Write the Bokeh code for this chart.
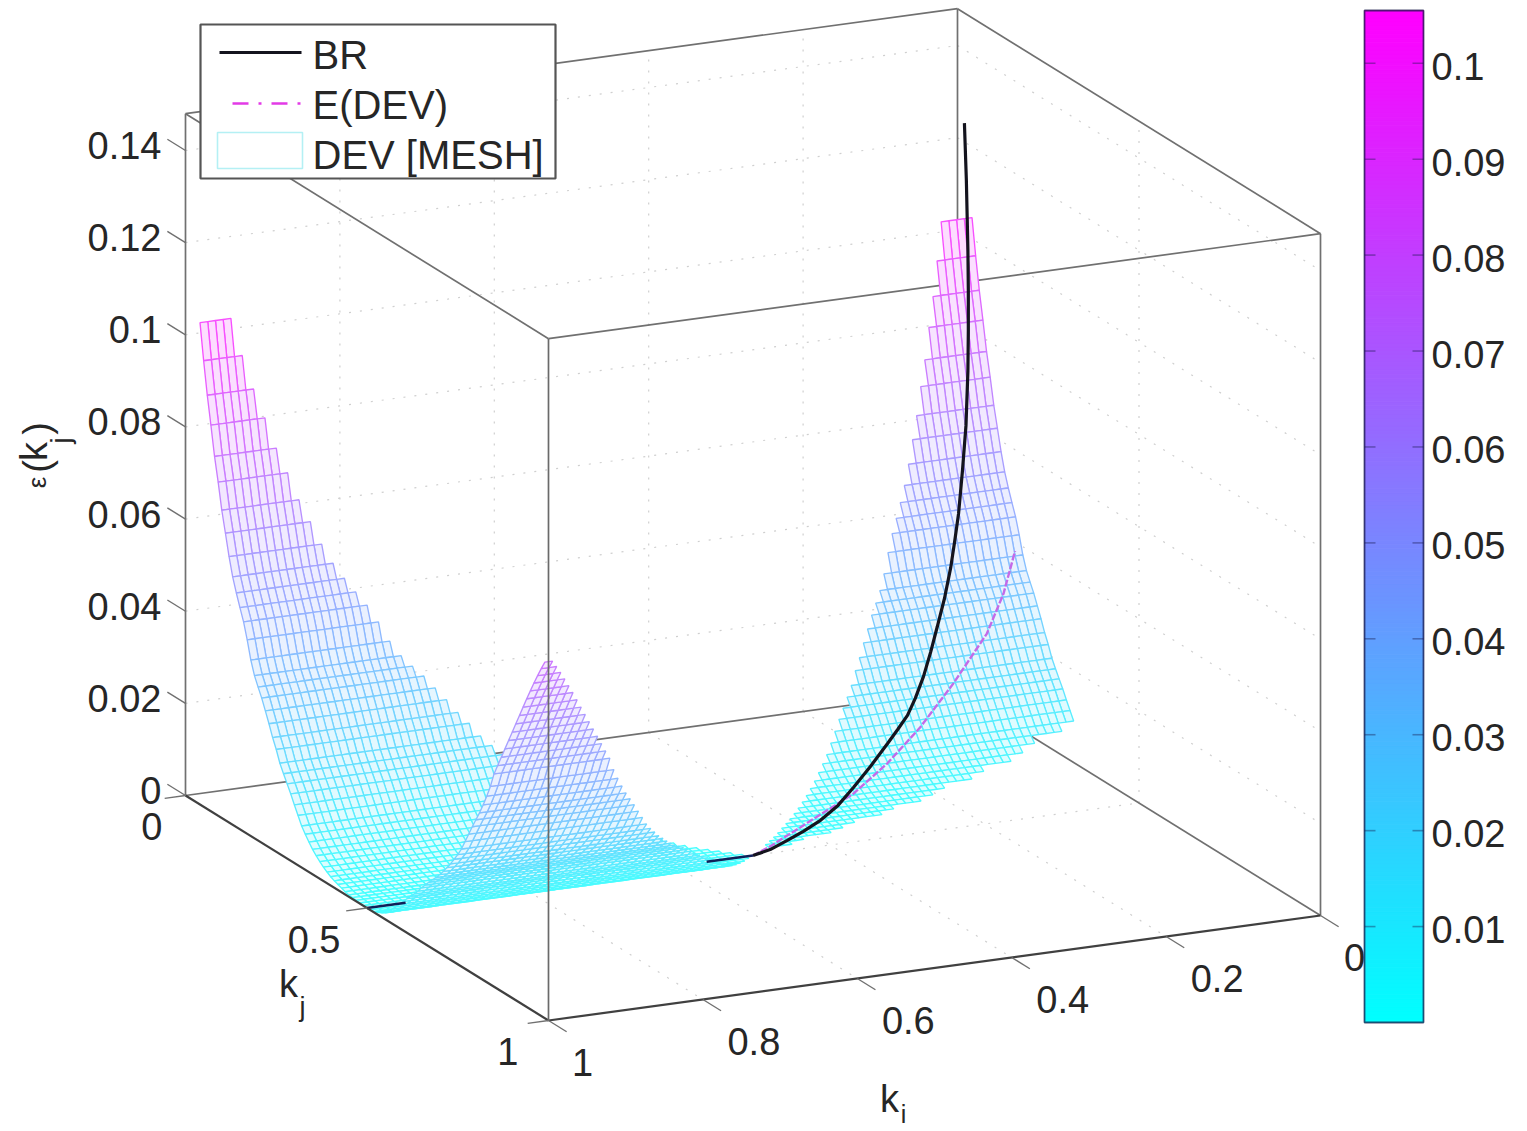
from bokeh.plotting import figure
from bokeh.embed import file_html
from bokeh.resources import INLINE
from bokeh.core.properties import value
import math

Z_TICKS = [0, 0.02, 0.04, 0.06, 0.08, 0.1, 0.12, 0.14]
Z_LABELS = ["0", "0.02", "0.04", "0.06", "0.08", "0.1", "0.12", "0.14"]
KI_TICKS = [1, 0.8, 0.6, 0.4, 0.2, 0]
KI_LABELS = ["1", "0.8", "0.6", "0.4", "0.2", "0"]
KJ_TICKS = [0, 0.5, 1]
KJ_LABELS = ["0", "0.5", "1"]
CBAR_TICKS = [0.01, 0.02, 0.03, 0.04, 0.05, 0.06, 0.07, 0.08, 0.09, 0.1]
CBAR_LABELS = ["0.01", "0.02", "0.03", "0.04", "0.05", "0.06", "0.07", "0.08", "0.09", "0.1"]
Z_TOP = 0.148
C_MAX = 0.1055

DEV_Z = [
    0.1046, 0.0968, 0.0898, 0.0838, 0.0775, 0.0724, 0.0668, 0.0623, 0.0577, 0.0538,
    0.0508, 0.0481, 0.0455, 0.0421, 0.0382, 0.0353, 0.0333, 0.0314, 0.0291, 0.0268,
    0.0243, 0.0222, 0.0197, 0.0179, 0.0162, 0.0145, 0.0126, 0.0108, 0.0090, 0.0077,
    0.0065, 0.0054, 0.0045, 0.0037, 0.0030, 0.0024, 0.0019, 0.0015, 0.0012, 0.0009,
    0.0006, 0.0004, 0.0003, 0.0002, 0.0001, 0.0000, 0.0000,
    0.0001, 0.0002, 0.0005, 0.0009, 0.0014, 0.0022, 0.0032, 0.0042, 0.0052, 0.0063,
    0.0074, 0.0084, 0.0094, 0.0105, 0.0117, 0.0128, 0.0139, 0.0149, 0.0159, 0.0170,
    0.0182, 0.0195, 0.0208, 0.0223, 0.0238, 0.0255, 0.0276, 0.0297, 0.0318, 0.0338,
    0.0358, 0.0380, 0.0404, 0.0430, 0.0462, 0.0485, 0.0508, 0.0531, 0.0554, 0.0577,
    0.0600, 0.0623, 0.0646, 0.0669, 0.0691, 0.0713, 0.0734, 0.0754, 0.0773, 0.0792,
]
# outer k_j limit of the right lobe, for k_i = 0, 0.02, ... 0.50
RIGHT_KJ_MAX = [0.32, 0.33, 0.33, 0.34, 0.35, 0.36, 0.36, 0.37, 0.38, 0.38, 0.39, 0.40, 0.41,
                0.41, 0.42, 0.43, 0.43, 0.44, 0.45, 0.46, 0.46, 0.47, 0.48, 0.48, 0.49, 0.50]

BR_KI = [0.5, 0.474, 0.448, 0.424, 0.398, 0.372, 0.348, 0.323, 0.297, 0.282, 0.267, 0.255, 0.243, 0.232,
         0.222, 0.211, 0.202, 0.196, 0.190, 0.184, 0.179, 0.176, 0.175, 0.175, 0.176, 0.178, 0.181]
BR_KJ = [0.5, 0.492, 0.484, 0.477, 0.469, 0.462, 0.454, 0.447, 0.439, 0.435, 0.430, 0.426, 0.423, 0.420,
         0.416, 0.413, 0.411, 0.409, 0.407, 0.405, 0.404, 0.403, 0.402, 0.402, 0.403, 0.403, 0.404]
BR_Z = [0.0, 0.0003, 0.0013, 0.0024, 0.0038, 0.0061, 0.0091, 0.0127, 0.0167, 0.0192, 0.0217, 0.0249, 0.0292, 0.0343,
        0.0391, 0.0450, 0.0514, 0.0568, 0.0626, 0.0717, 0.0813, 0.0931, 0.1017, 0.1104, 0.1191, 0.1344, 0.1470]
BR_STUB_KI = [1.0, 0.95]
BR_FLAT_KI = [0.56, 0.5]
E_KI = [0.5, 0.467, 0.310, 0.245, 0.183, 0.120, 0.056, 0.025, 0.003]
E_KJ = [0.5, 0.478, 0.372, 0.328, 0.286, 0.244, 0.200, 0.180, 0.165]
E_Z = [0.0, 0.0002, 0.0028, 0.0058, 0.0101, 0.0162, 0.0234, 0.0304, 0.0384]

X0, XI, XJ = 957.0, -772.0, 363.0
Y0, YI, YJ, ZS = 690.0, 105.0, 225.0, 4607.0
FONT = value("Liberation Sans")
INK = "#262626"


def px(ki, kj):
    return X0 + XI * ki + XJ * kj


def py(ki, kj, z=0.0):
    return Y0 + YI * ki + YJ * kj - ZS * z


def cool(z, white=0.0):
    c = max(0.0, min(1.0, z / C_MAX))
    r, g, b = 255 * c, 255 * (1 - c), 255.0
    return "#%02x%02x%02x" % tuple(round(v + (255 - v) * white) for v in (r, g, b))


p = figure(width=1527, height=1131, x_range=(0, 1527), y_range=(1131, 0),
           output_backend="svg", toolbar_location=None, min_border=0)
p.axis.visible = False
p.grid.visible = False
p.outline_line_color = None


def seg(items, a, b):
    items[0].append([px(a[0], a[1]), px(b[0], b[1])])
    items[1].append([py(*a), py(*b)])


# back grid, dotted
grid = ([], [])
for z in Z_TICKS[1:]:
    seg(grid, (1, 0, z), (0, 0, z))
    seg(grid, (0, 0, z), (0, 1, z))
for k in KI_TICKS[1:-1]:
    seg(grid, (k, 0, 0), (k, 1, 0))
    seg(grid, (k, 0, 0), (k, 0, Z_TOP))
for k in KJ_TICKS[1:-1]:
    seg(grid, (1, k, 0), (0, k, 0))
    seg(grid, (0, k, 0), (0, k, Z_TOP))
p.multi_line(grid[0], grid[1], line_color="#cfcfcf", line_width=1.2, line_dash="2 9")

# back box edges
back = ([], [])
seg(back, (1, 0, 0), (0, 0, 0))
seg(back, (0, 0, 0), (0, 1, 0))
seg(back, (0, 0, 0), (0, 0, Z_TOP))
seg(back, (1, 0, Z_TOP), (0, 0, Z_TOP))
seg(back, (0, 0, Z_TOP), (0, 1, Z_TOP))
seg(back, (1, 0, 0), (1, 0, Z_TOP))
seg(back, (0, 1, 0), (0, 1, Z_TOP))
seg(back, (1, 0, Z_TOP), (1, 1, Z_TOP))
seg(back, (1, 1, Z_TOP), (0, 1, Z_TOP))
p.multi_line(back[0], back[1], line_color="#707070", line_width=1.7)

# mesh
def row_z(j):
    return DEV_Z[j - 4]


def in_domain(i, j):
    if i >= 50:
        return i >= j and i + j >= 100
    return i <= j and j <= round(RIGHT_KJ_MAX[i // 2] * 100)


cells = []
for i in range(0, 100):
    for j in range(4, 100):
        corners = [(i, j), (i + 1, j), (i + 1, j + 1), (i, j + 1)]
        if all(in_domain(a, b) for a, b in corners):
            cells.append(corners)
cells.sort(key=lambda c: py((c[0][0] + 0.5) / 100, (c[0][1] + 0.5) / 100))

xs, ys, cols, fills = [], [], [], []
for c in cells:
    xs.append([px(a / 100, b / 100) for a, b in c])
    ys.append([py(a / 100, b / 100, row_z(b)) for a, b in c])
    zm = (row_z(c[0][1]) + row_z(c[2][1])) / 2
    cols.append(cool(zm, 0.28))
    fills.append(cool(zm, 0.86))
p.patches(xs, ys, fill_color=fills, line_color=cols, line_width=1.35)

# curves
p.line([px(k, 0.5) for k in BR_STUB_KI], [py(k, 0.5) for k in BR_STUB_KI], line_color="#10205a", line_width=2.4)
p.line([px(k, 0.5) for k in BR_FLAT_KI], [py(k, 0.5) for k in BR_FLAT_KI], line_color="#10205a", line_width=2.4)
p.line([px(a, b) for a, b in zip(E_KI, E_KJ)], [py(a, b, c) for a, b, c in zip(E_KI, E_KJ, E_Z)],
       line_color="#c46ae8", line_width=2.4, line_dash="7 2")
p.line([px(a, b) for a, b in zip(BR_KI, BR_KJ)], [py(a, b, c) for a, b, c in zip(BR_KI, BR_KJ, BR_Z)],
       line_color="#14141e", line_width=3.2)

# front edges and ticks
front = ([], [])
seg(front, (1, 0, 0), (1, 1, 0))
seg(front, (1, 1, 0), (0, 1, 0))
p.multi_line(front[0], front[1], line_color="#404040", line_width=2.2)
vert = ([], [])
seg(vert, (1, 1, 0), (1, 1, Z_TOP))
p.multi_line(vert[0], vert[1], line_color="#6a6a6a", line_width=1.7)

ticks = ([], [])
for z in Z_TICKS:
    seg(ticks, (1, 0, z), (1, -0.05, z))
for k in KI_TICKS:
    seg(ticks, (k, 1, 0), (k, 1.05, 0))
for k in KJ_TICKS:
    seg(ticks, (1, k, 0), (1.027, k, 0))
p.multi_line(ticks[0], ticks[1], line_color="#707070", line_width=1.4)


def txt(x, y, s, size=38, align="center", angle=0.0, base="middle"):
    p.text([x], [y], text=[s], text_font=FONT, text_font_size=f"{size}px", text_align=align,
           text_baseline=base, text_color=INK, angle=angle)


for z, s in zip(Z_TICKS, Z_LABELS):
    txt(px(1, 0) - 24, py(1, 0, z) - 5, s, align="right")
for k, s in zip(KI_TICKS, KI_LABELS):
    txt(px(k, 1) + (34 if len(s) == 1 else 51), py(k, 1) + 42, s)
for k, s in zip(KJ_TICKS, KJ_LABELS):
    txt(px(1, k) - 23 - 7 * k, py(1, k) + 31, s, align="right")

txt(288, 983, "k")
txt(302, 1006, "j", size=27)
txt(889, 1098, "k")
txt(903, 1113, "i", size=25)
up = math.pi / 2
txt(36, 482, "ε", size=26, angle=up)
txt(36, 466, "(", angle=up)
txt(33, 451, "k", angle=up)
txt(60, 440, "j", size=27, angle=up)
txt(36, 428, ")", angle=up)

# colour bar
CB_L, CB_R, CB_T, CB_B = 1364.0, 1423.0, 10.0, 1022.0
n = 256
edges = [CB_B + (CB_T - CB_B) * i / n for i in range(n + 1)]
p.quad(left=[CB_L] * n, right=[CB_R] * n, top=edges[1:], bottom=edges[:-1],
       fill_color=[cool(C_MAX * (i + 0.5) / n) for i in range(n)],
       line_color=[cool(C_MAX * (i + 0.5) / n) for i in range(n)], line_width=1)
p.quad(left=[CB_L], right=[CB_R], top=[CB_T], bottom=[CB_B], fill_color=None,
       line_color="#1a1a4a", line_alpha=0.75, line_width=1.8)
cb_y = [CB_B + (CB_T - CB_B) * t / C_MAX for t in CBAR_TICKS]
p.multi_line([[CB_L, CB_L + 11] for _ in cb_y] + [[CB_R - 11, CB_R] for _ in cb_y],
             [[y, y] for y in cb_y] * 2, line_color="#1a1a4a", line_alpha=0.4, line_width=1.6)
for y, s in zip(cb_y, CBAR_LABELS):
    txt(1431, y + 3, s, align="left")

# legend
p.quad(left=[200], right=[555], top=[24], bottom=[178], fill_color="white",
       line_color="#555555", line_width=2.2)
p.line([219, 301], [52, 52], line_color="#14141e", line_width=3)
p.line([232, 301], [103, 103], line_color="#e23ae6", line_width=2.6, line_dash="16 10 3 10")
p.quad(left=[217], right=[302], top=[132], bottom=[168], fill_color="white",
       line_color="#b4f0f4", line_width=1.6)
txt(312, 54, "BR", align="left", size=40)
txt(312, 104, "E(DEV)", align="left", size=40)
txt(312, 154, "DEV [MESH]", align="left", size=40)

open("out.html", "w").write(file_html(p, INLINE))
